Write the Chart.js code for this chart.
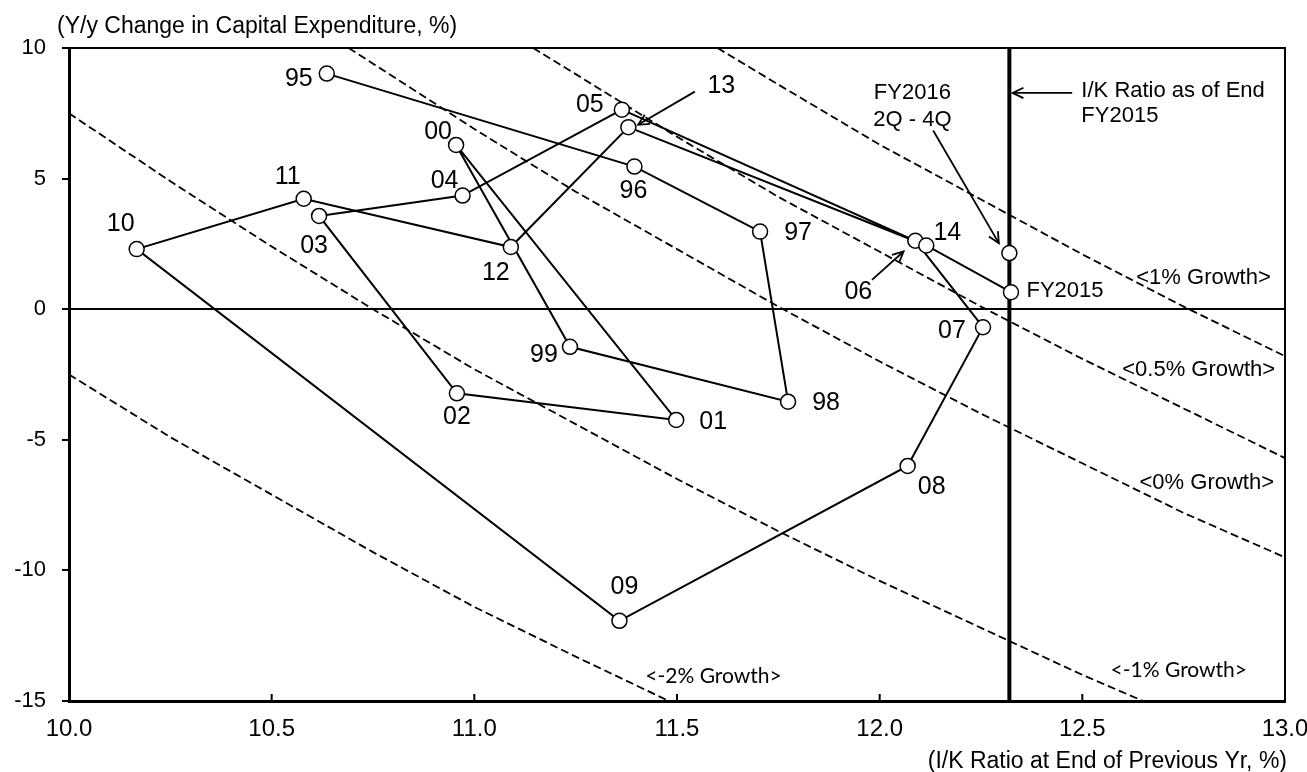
<!DOCTYPE html>
<html>
<head>
<meta charset="utf-8">
<script src="https://cdn.jsdelivr.net/npm/chart.js@4.4.1/dist/chart.umd.min.js"></script>
<style>
html,body{margin:0;padding:0;background:#fff;}
#wrap{width:1307px;height:772px;position:relative;}
</style>
</head>
<body>
<div id="wrap"><canvas id="c"></canvas></div>
<script>
// ---------- DATA ----------
const yearLabels = ['95','96','97','98','99','00','01','02','03','04','05','06','07','08','09','10','11','12','13','14','FY2015'];
const ikRatio    = [10.636,11.395,11.705,11.774,11.236,10.955,11.498,10.957,10.617,10.971,11.364,12.088,12.255,12.069,11.358,10.167,10.579,11.090,11.380,12.115,12.324];
const capexGrowth= [9.02,5.46,2.97,-3.54,-1.44,6.29,-4.24,-3.22,3.57,4.35,7.64,2.62,-0.69,-6.00,-11.93,2.30,4.23,2.38,6.97,2.44,0.65];

const fy2016Label = ['FY2016','2Q - 4Q'];
const fy2016X = [12.32];
const fy2016Y = [2.15];

const ikEndFY2015 = 12.32;
const ikEndLabel = ['I/K Ratio as of End','FY2015'];

const growthLabels = ['<1% Growth>','<0.5% Growth>','<0% Growth>','<-1% Growth>','<-2% Growth>'];
const iso1X   = [11.6,11.75,12.0,12.25,12.5,12.75,13.0];
const iso1Y   = [10,8.6,6.3,4.2,2.1,0.1,-1.8];
const iso05X  = [11.145,11.25,11.5,11.75,12.0,12.25,12.5,12.75,13.0];
const iso05Y  = [10,9.0,6.6,4.3,2.2,0.1,-1.9,-3.8,-5.7];
const iso0X   = [10.69,10.75,11.0,11.25,11.5,11.75,12.0,12.25,12.5,12.75,13.0];
const iso0Y   = [10,9.4,6.9,4.5,2.3,0.1,-2.0,-4.0,-5.9,-7.8,-9.5];
const isoM1X  = [10.0,10.25,10.5,10.75,11.0,11.25,11.5,11.75,12.0,12.25,12.5,12.65];
const isoM1Y  = [7.5,4.9,2.4,0.0,-2.3,-4.4,-6.5,-8.5,-10.4,-12.2,-14.0,-15];
const isoM2X  = [10.0,10.25,10.5,10.75,11.0,11.25,11.48];
const isoM2Y  = [-2.5,-4.9,-7.1,-9.3,-11.4,-13.3,-15];

const xTicks = [10.0,10.5,11.0,11.5,12.0,12.5,13.0];
const yTicks = [-15,-10,-5,0,5,10];
const yTitle = '(Y/y Change in Capital Expenditure, %)';
const xTitle = '(I/K Ratio at End of Previous Yr, %)';

// ---------- LAYOUT / STYLE (not data) ----------
const labelOffsets = [[-28,6],[-1,25],[38,1],[38,1],[-26,8],[-18,-13],[37,2],[0,24],[-5,30],[-18,-14],[-32,-5],[-57,51],[-31,4],[24,21],[5,-34],[-16,-25],[-16,-22],[-15,26],[93,-41],[21,-12],[54,-1]];
const growthLabelPos = [[12.799,1.19],[12.787,-2.33],[12.807,-6.67],[12.738,-13.82],[11.590,-14.05]];
const arrowsDef = [
  {from:[11.544,8.33], to:[11.404,7.06]},   // 13
  {from:[11.981,1.12], to:[12.059,2.21]},   // 06
  {from:[12.132,6.84], to:[12.294,2.53]},   // FY2016
  {from:[12.475,8.28], to:[12.328,8.28]}    // I/K
];
const FONT = '"Liberation Sans", Arial, Helvetica, sans-serif';

const pts = (xs, ys) => xs.map((v,i)=>({x:v,y:ys[i]}));
const dashStyle = {borderColor:'#000', borderWidth:1.8, borderDash:[8,4], pointRadius:0, showLine:true, fill:false, order:5, tension:0};

const plugin = {
  id:'annot',
  afterDatasetsDraw(chart){
    const {ctx, chartArea:a, scales:{x,y}} = chart;
    ctx.save();
    ctx.strokeStyle='#000'; ctx.fillStyle='#000';
    // top / right frame
    ctx.lineWidth=2;
    ctx.beginPath(); ctx.moveTo(a.left,a.top); ctx.lineTo(a.right,a.top); ctx.lineTo(a.right,a.bottom); ctx.stroke();
    // inward x ticks
    ctx.lineWidth=2;
    xTicks.forEach(v=>{
      const px = x.getPixelForValue(v);
      ctx.beginPath(); ctx.moveTo(px,a.bottom); ctx.lineTo(px,a.bottom-7); ctx.stroke();
    });
    // arrows
    ctx.lineWidth=1.8;
    arrowsDef.forEach(d=>{
      const x1=x.getPixelForValue(d.from[0]), y1=y.getPixelForValue(d.from[1]);
      const x2=x.getPixelForValue(d.to[0]), y2=y.getPixelForValue(d.to[1]);
      ctx.beginPath(); ctx.moveTo(x1,y1); ctx.lineTo(x2,y2); ctx.stroke();
      const ang=Math.atan2(y2-y1,x2-x1), L=12, s=0.45;
      ctx.beginPath();
      ctx.moveTo(x2-L*Math.cos(ang-s), y2-L*Math.sin(ang-s));
      ctx.lineTo(x2,y2);
      ctx.lineTo(x2-L*Math.cos(ang+s), y2-L*Math.sin(ang+s));
      ctx.stroke();
    });
    // point labels
    ctx.textAlign='center'; ctx.textBaseline='middle';
    yearLabels.forEach((t,i)=>{
      ctx.font = (t.length>2 ? '22px ' : '25px ') + FONT;
      const px=x.getPixelForValue(ikRatio[i])+labelOffsets[i][0];
      const py=y.getPixelForValue(capexGrowth[i])+labelOffsets[i][1];
      ctx.fillText(t,px,py);
    });
    // FY2016 label
    ctx.font='22px '+FONT;
    const fx=x.getPixelForValue(fy2016X[0]), fy=y.getPixelForValue(fy2016Y[0]);
    ctx.fillText(fy2016Label[0], fx-97, fy-160);
    ctx.fillText(fy2016Label[1], fx-97, fy-133);
    // I/K label
    ctx.textAlign='left';
    const ix=x.getPixelForValue(ikEndFY2015);
    ctx.fillText(ikEndLabel[0], ix+72, y.getPixelForValue(10)+43);
    ctx.fillText(ikEndLabel[1], ix+72, y.getPixelForValue(10)+68);
    // growth labels
    ctx.textAlign='center';
    growthLabels.forEach((t,i)=>{
      ctx.font = (i>=3 ? '21px Lato, "Open Sans", sans-serif' : '22px '+FONT);
      ctx.fillText(t, x.getPixelForValue(growthLabelPos[i][0]), y.getPixelForValue(growthLabelPos[i][1]));
    });
    // axis titles
    ctx.font='23px '+FONT;
    ctx.textAlign='left';
    ctx.fillText(yTitle, 57, 27);
    ctx.textAlign='right';
    ctx.fillText(xTitle, 1287, 762);
    ctx.restore();
  }
};

new Chart(document.getElementById('c'), {
  type:'scatter',
  data:{
    datasets:[
      {label:'path', data:pts(ikRatio,capexGrowth), showLine:true, borderColor:'#000', borderWidth:2,
       pointRadius:7.5, pointBackgroundColor:'#fff', pointBorderColor:'#000', pointBorderWidth:1.5, order:0, tension:0},
      {label:'FY2016', data:pts(fy2016X,fy2016Y), showLine:false,
       pointRadius:7.5, pointBackgroundColor:'#fff', pointBorderColor:'#000', pointBorderWidth:1.5, order:0},
      {label:'ikEnd', data:[{x:ikEndFY2015,y:-15},{x:ikEndFY2015,y:10}], showLine:true, borderColor:'#000', borderWidth:4, pointRadius:0, order:2},
      Object.assign({label:growthLabels[0], data:pts(iso1X,iso1Y)}, dashStyle),
      Object.assign({label:growthLabels[1], data:pts(iso05X,iso05Y)}, dashStyle),
      Object.assign({label:growthLabels[2], data:pts(iso0X,iso0Y)}, dashStyle),
      Object.assign({label:growthLabels[3], data:pts(isoM1X,isoM1Y)}, dashStyle),
      Object.assign({label:growthLabels[4], data:pts(isoM2X,isoM2Y)}, dashStyle)
    ]
  },
  options:{
    responsive:true, maintainAspectRatio:false, animation:false,
    layout:{padding:{top:48,right:22,left:0,bottom:0}},
    plugins:{legend:{display:false}, tooltip:{enabled:false}, title:{display:false}},
    scales:{
      x:{type:'linear', min:10, max:13,
        afterBuildTicks(s){ s.ticks = xTicks.map(v=>({value:v})); },
        afterFit(s){ s.height = 71; s.paddingLeft = 0; s.paddingRight = 0; },
        ticks:{color:'#000', font:{family:FONT,size:24}, padding:14, callback:v=>Number(v).toFixed(1), maxRotation:0, autoSkip:false},
        grid:{display:true, drawOnChartArea:false, drawTicks:false},
        border:{display:true, color:'#000', width:3}
      },
      y:{type:'linear', min:-15, max:10,
        afterBuildTicks(s){ s.ticks = yTicks.map(v=>({value:v})); },
        afterFit(s){ s.width = 69; s.paddingTop = 0; s.paddingBottom = 0; },
        ticks:{color:'#000', font:{family:FONT,size:22}, padding:16, callback:v=>String(v), autoSkip:false},
        grid:{display:true, drawOnChartArea:true, drawTicks:true, tickLength:7, tickColor:'#000', tickWidth:2,
          color:c=>(c.tick && c.tick.value===0 ? '#000' : 'rgba(0,0,0,0)'), lineWidth:2},
        border:{display:true, color:'#000', width:3}
      }
    }
  },
  plugins:[plugin]
});
</script>
</body>
</html>
